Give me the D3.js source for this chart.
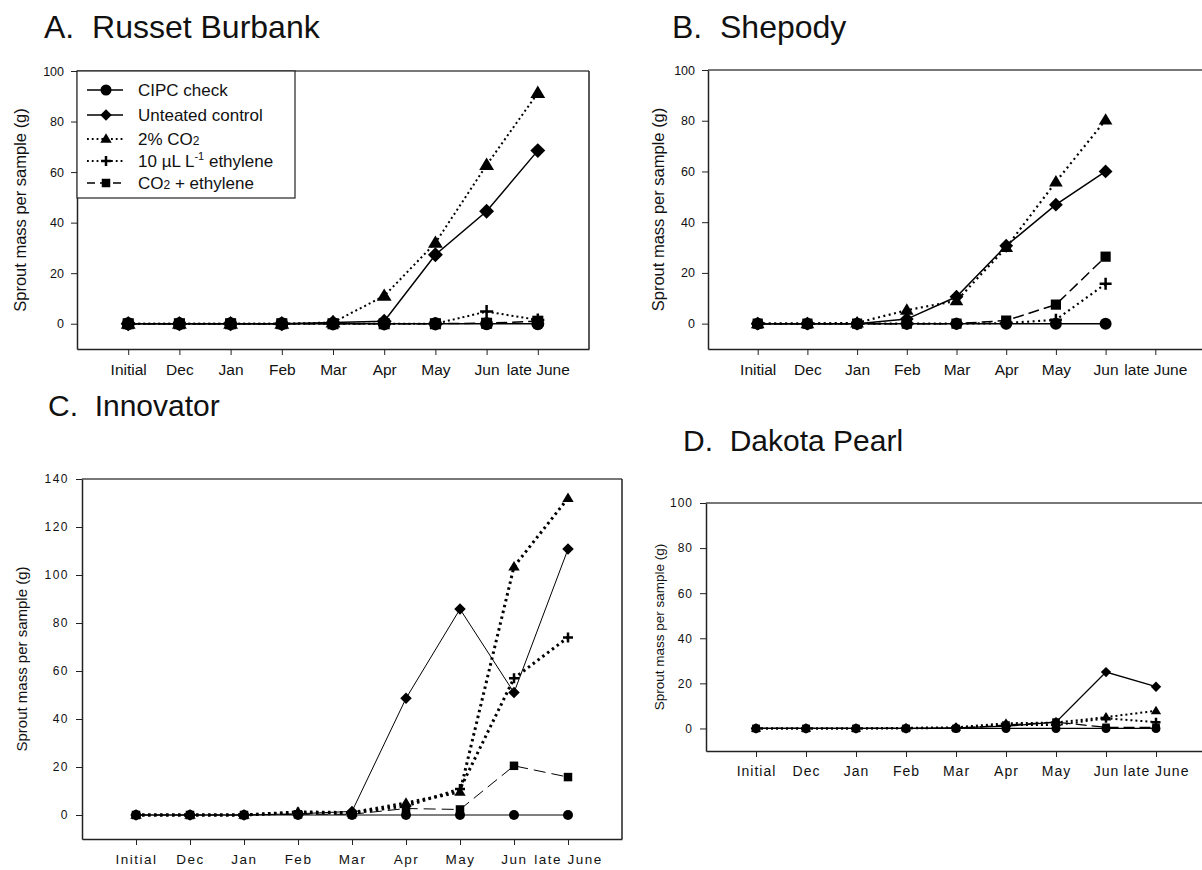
<!DOCTYPE html>
<html>
<head>
<meta charset="utf-8">
<script src="https://cdn.jsdelivr.net/npm/d3@7/dist/d3.min.js"></script>
<style>
  body { margin: 0; background: #fff; }
  svg text { font-family: Arial, "Liberation Sans", sans-serif; fill: #111; white-space: pre; }
</style>
</head>
<body>
<div id="container"></div>
<script>
/** DATA */
const months = ["Initial", "Dec", "Jan", "Feb", "Mar", "Apr", "May", "Jun", "late June"];
const yTicks100 = [0, 20, 40, 60, 80, 100];
const yTicks140 = [0, 20, 40, 60, 80, 100, 120, 140];

// A. Russet Burbank
const burbankCipc     = [0, 0, 0, 0, 0, 0, 0, 0, 0];
const burbankControl  = [0, 0, 0, 0, 0.5, 1, 27.3, 44.5, 68.5];
const burbankCo2      = [0, 0, 0, 0, 0.5, 11, 32, 62.8, 91.3];
const burbankEthylene = [0, 0, 0, 0, 0, 0, 0, 4.8, 1.5];
const burbankCombo    = [0, 0, 0, 0, 0, 0, 0, 0.2, 1];

// B. Shepody (no late June sample)
const shepodyCipc     = [0, 0, 0, 0, 0, 0, 0, 0];
const shepodyControl  = [0, 0, 0, 1.8, 10.6, 30.7, 46.9, 60];
const shepodyCo2      = [0, 0, 0.3, 5.3, 9, 30, 55.9, 80.3];
const shepodyEthylene = [0, 0, 0, 0, 0, 0.2, 1.5, 15.7];
const shepodyCombo    = [0, 0, 0, 0, 0, 1.2, 7.5, 26.4];

// C. Innovator
const innovatorCipc     = [0, 0, 0, 0, 0, 0, 0, 0, 0];
const innovatorControl  = [0, 0, 0, 0.5, 1.5, 48.6, 85.8, 51, 110.8];
const innovatorCo2      = [0, 0, 0, 1.3, 1, 5, 9.6, 103.5, 132];
const innovatorEthylene = [0, 0, 0, 1, 0.8, 3.8, 10.8, 57, 74];
const innovatorCombo    = [0, 0, 0, 0.3, 0.3, 2.7, 2.3, 20.5, 15.8];

// D. Dakota Pearl
const dakotaCipc     = [0, 0, 0, 0, 0, 0, 0, 0, 0];
const dakotaControl  = [0, 0, 0, 0, 0.3, 1, 2.8, 25, 18.5];
const dakotaCo2      = [0, 0, 0, 0.3, 0.5, 2.3, 2.6, 5, 7.8];
const dakotaEthylene = [0, 0, 0, 0, 0.3, 1.5, 1.5, 4.5, 2.8];
const dakotaCombo    = [0, 0, 0, 0, 0, 1.5, 2.8, 0.5, 0.5];

/** SERIES STYLES (order matches legend) */
const seriesStyle = [
  { name: "CIPC check",         dash: null,   marker: "circle" },
  { name: "Unteated control",   dash: null,   marker: "diamond" },
  { name: "2% CO2",             dash: "dot",  marker: "triangle" },
  { name: "10 µL L-1 ethylene", dash: "dot",  marker: "plus" },
  { name: "CO2 + ethylene",     dash: "dash", marker: "square" }
];

/** PANELS */
const panels = [
  { title: "A.  Russet Burbank", tx: 44, ty: 38, tFont: 32,
    box: { left: 77, right: 589, top: 71, bottom: 349 }, yMax: 100, ticks: yTicks100,
    series: [burbankCipc, burbankControl, burbankCo2, burbankEthylene, burbankCombo],
    m: 6.5, lw: 1.5, dotW: 2, dotDash: "2,3", spacing: 0, yFont: 12.5, xFont: 15.5, labFont: 16.5, labX: 22, legend: true },
  { title: "B.  Shepody", tx: 672, ty: 38, tFont: 32,
    box: { left: 708, right: 1205, top: 70, bottom: 349 }, yMax: 100, ticks: yTicks100,
    series: [shepodyCipc, shepodyControl, shepodyCo2, shepodyEthylene, shepodyCombo],
    m: 6, lw: 1.5, dotW: 2.2, dotDash: "2,3.5", spacing: 0, yFont: 12.5, xFont: 15.5, labFont: 16.5, labX: 660 },
  { title: "C.  Innovator", tx: 48, ty: 416, tFont: 30,
    box: { left: 82, right: 622, top: 479, bottom: 839 }, yMax: 140, ticks: yTicks140,
    series: [innovatorCipc, innovatorControl, innovatorCo2, innovatorEthylene, innovatorCombo],
    m: 5, lw: 1, dotW: 3, dotDash: "2.5,3.5", spacing: 1.5, yFont: 12, xFont: 13.5, labFont: 15, labX: 23 },
  { title: "D.  Dakota Pearl", tx: 683, ty: 451, tFont: 30,
    box: { left: 706, right: 1206, top: 503, bottom: 751 }, yMax: 100, ticks: yTicks100,
    series: [dakotaCipc, dakotaControl, dakotaCo2, dakotaEthylene, dakotaCombo],
    m: 4.5, lw: 1.3, dotW: 2, dotDash: "2,3", spacing: 1, yFont: 12, xFont: 14, labFont: 13.5, labX: 660 }
];

const svg = d3.select("#container").append("svg")
  .attr("width", 1202)
  .attr("height", 870);

// marker path centred at 0,0
function markerPath(type, r) {
  const p = d3.path();
  if (type === "circle") {
    p.arc(0, 0, r, 0, 2 * Math.PI);
  } else if (type === "diamond") {
    const d = r * 1.15;
    p.moveTo(0, -d); p.lineTo(d, 0); p.lineTo(0, d); p.lineTo(-d, 0); p.closePath();
  } else if (type === "triangle") {
    const h = r * 1.9;
    p.moveTo(0, -h * 0.6); p.lineTo(h * 0.6, h * 0.4); p.lineTo(-h * 0.6, h * 0.4); p.closePath();
  } else if (type === "square") {
    const s = r * 0.85;
    p.rect(-s, -s, 2 * s, 2 * s);
  } else if (type === "plus") {
    p.moveTo(-r, 0); p.lineTo(r, 0); p.moveTo(0, -r); p.lineTo(0, r);
  }
  return p.toString();
}

function drawMarker(g, type, x, y, r) {
  const path = g.append("path")
    .attr("d", markerPath(type, r))
    .attr("transform", `translate(${x},${y})`);
  if (type === "plus") {
    path.attr("fill", "none").attr("stroke", "#000").attr("stroke-width", 2.5);
  } else {
    path.attr("fill", "#000");
  }
}

function dashFor(style, pn) {
  if (style.dash === "dot") return pn.dotDash;
  if (style.dash === "dash") return pn.lw < 1.2 ? "12,6" : "11,5";
  return null;
}

function widthFor(style, pn) {
  return style.dash === "dot" ? pn.dotW : pn.lw;
}

panels.forEach(pn => {
  const b = pn.box;
  const g = svg.append("g");

  const x = d3.scalePoint()
    .domain(months)
    .range([b.left, b.right])
    .padding(1);

  const y = d3.scaleLinear()
    .domain([-10, pn.yMax])
    .range([b.bottom, b.top]);

  // title
  g.append("text")
    .attr("x", pn.tx)
    .attr("y", pn.ty)
    .style("font-size", pn.tFont + "px")
    .text(pn.title);

  // frame top and right
  g.append("line")
    .attr("x1", b.left).attr("x2", b.right)
    .attr("y1", b.top).attr("y2", b.top)
    .attr("stroke", "#777").attr("stroke-width", 2);
  g.append("line")
    .attr("x1", b.right).attr("x2", b.right)
    .attr("y1", b.top).attr("y2", b.bottom)
    .attr("stroke", "#222").attr("stroke-width", 1.5);

  // axes
  const yAxis = g.append("g")
    .attr("transform", `translate(${b.left},0)`)
    .call(d3.axisLeft(y).tickValues(pn.ticks).tickSize(6).tickSizeOuter(0).tickPadding(7));
  const xAxis = g.append("g")
    .attr("transform", `translate(0,${b.bottom})`)
    .call(d3.axisBottom(x).tickSize(6).tickSizeOuter(0).tickPadding(9));

  [yAxis, xAxis].forEach(a => {
    a.select(".domain").attr("stroke", "#222").attr("stroke-width", 1.5);
    a.selectAll(".tick line").attr("stroke", "#222");
    a.selectAll("text")
      .style("font-family", "Arial, 'Liberation Sans', sans-serif")
      .style("letter-spacing", pn.spacing + "px")
      .attr("fill", "#111");
  });
  yAxis.selectAll("text").style("font-size", pn.yFont + "px");
  xAxis.selectAll("text").style("font-size", pn.xFont + "px");

  // y label
  g.append("text")
    .attr("transform", `translate(${pn.labX},${(b.top + b.bottom) / 2}) rotate(-90)`)
    .attr("text-anchor", "middle")
    .attr("dominant-baseline", "middle")
    .style("font-size", pn.labFont + "px")
    .text("Sprout mass per sample (g)");

  // lines
  const line = d3.line()
    .x((d, i) => x(months[i]))
    .y(d => y(d));

  pn.series.forEach((vals, si) => {
    const st = seriesStyle[si];
    g.append("path")
      .datum(vals)
      .attr("d", line)
      .attr("fill", "none")
      .attr("stroke", "#000")
      .attr("stroke-width", widthFor(st, pn))
      .attr("stroke-dasharray", dashFor(st, pn));
  });

  // markers (CIPC drawn last so it sits on top)
  [4, 3, 2, 1, 0].forEach(si => {
    const st = seriesStyle[si];
    pn.series[si].forEach((v, i) => {
      drawMarker(g, st.marker, x(months[i]), y(v), pn.m);
    });
  });

  // legend
  if (pn.legend) {
    const lg = g.append("g");
    lg.append("rect")
      .attr("x", b.left).attr("y", b.top)
      .attr("width", 218).attr("height", 127)
      .attr("fill", "#fff").attr("stroke", "#222").attr("stroke-width", 1.2);
    const rowY = [90, 115, 139, 161, 183];
    seriesStyle.forEach((st, i) => {
      const ry = rowY[i];
      lg.append("line")
        .attr("x1", b.left + 10).attr("x2", b.left + 46)
        .attr("y1", ry).attr("y2", ry)
        .attr("stroke", "#000")
        .attr("stroke-width", st.dash === "dot" ? 1.8 : 1.5)
        .attr("stroke-dasharray", st.dash === "dot" ? "1.8,3" : st.dash === "dash" ? "8,5" : null);
      drawMarker(lg, st.marker, b.left + 29, ry, st.marker === "circle" ? 5.5 : 5);
      const t = lg.append("text")
        .attr("x", b.left + 61)
        .attr("y", ry + 6)
        .style("font-size", "17px");
      if (i === 2) {
        t.append("tspan").text("2% CO");
        t.append("tspan").style("font-size", "12px").text("2");
      } else if (i === 3) {
        t.append("tspan").text("10 µL L");
        t.append("tspan").attr("dy", -7).style("font-size", "11px").text("-1");
        t.append("tspan").attr("dy", 7).text(" ethylene");
      } else if (i === 4) {
        t.append("tspan").text("CO");
        t.append("tspan").style("font-size", "12px").text("2");
        t.append("tspan").text(" + ethylene");
      } else {
        t.text(st.name);
      }
    });
  }
});
</script>
</body>
</html>
